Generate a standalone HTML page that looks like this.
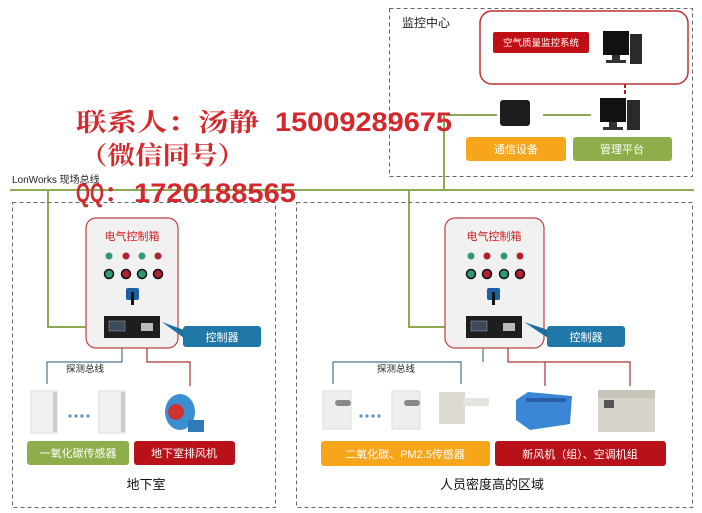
<!DOCTYPE html>
<html><head><meta charset="utf-8"><style>
html,body{margin:0;padding:0;background:#fff}
svg{display:block}
.t{font-family:"Liberation Sans","Noto Sans CJK SC",sans-serif}
.w{font-family:"Liberation Sans Narrow","Liberation Sans","Noto Serif CJK SC",serif;fill:#d3282c;font-weight:bold}
.wc{font-family:"Noto Serif CJK SC",serif;fill:#d3282c;font-weight:bold}
</style></head><body>
<svg width="702" height="513" viewBox="0 0 702 513" xmlns="http://www.w3.org/2000/svg">
<rect x="389.5" y="8.5" width="303" height="168" fill="none" stroke="#666" stroke-dasharray="4,3"/>
<text x="402" y="27" class="t" font-size="12" fill="#222">监控中心</text>
<rect x="480" y="11" width="208" height="73" rx="12" fill="#fff" stroke="#b33" stroke-width="1.5"/>
<rect x="493" y="32" width="96" height="21" rx="2" fill="#c00f14"/>
<text x="541" y="46" class="t" font-size="9.5" fill="#fff" text-anchor="middle">空气质量监控系统</text>
<rect x="603" y="31" width="26" height="24" fill="#111"/><rect x="612" y="55" width="8" height="6" fill="#333"/><rect x="606" y="60" width="20" height="3" fill="#333"/>
<rect x="630" y="34" width="12" height="30" fill="#2a2a2a"/>
<line x1="625" y1="84" x2="625" y2="96" stroke="#a22" stroke-width="2" stroke-dasharray="4,2"/>
<rect x="500" y="100" width="30" height="26" rx="3" fill="#1d1d1d"/>
<rect x="600" y="98" width="26" height="24" fill="#111"/><rect x="609" y="122" width="8" height="5" fill="#333"/><rect x="603" y="127" width="20" height="3" fill="#333"/>
<rect x="627" y="100" width="13" height="30" fill="#2a2a2a"/>
<g stroke="#8daa55" stroke-width="2" fill="none">
<line x1="446" y1="115" x2="497" y2="115"/>
<line x1="543" y1="115" x2="591" y2="115"/>
<line x1="444" y1="114" x2="444" y2="190"/>
<line x1="10" y1="190" x2="694" y2="190"/>
<polyline points="48,190 48,327 104,327"/>
<polyline points="409,190 409,327 466,327"/>
</g>
<rect x="466" y="137" width="100" height="24" rx="3" fill="#f7a51a"/>
<text x="516" y="153" class="t" font-size="11" fill="#fff" text-anchor="middle">通信设备</text>
<rect x="573" y="137" width="99" height="24" rx="3" fill="#8dae4a"/>
<text x="622" y="153" class="t" font-size="11" fill="#fff" text-anchor="middle">管理平台</text>
<text x="12" y="183" class="t" font-size="10" fill="#222">LonWorks 现场总线</text>

<rect x="12.5" y="202.5" width="263" height="305" fill="none" stroke="#666" stroke-dasharray="4,3"/>
<rect x="296.5" y="202.5" width="396" height="305" fill="none" stroke="#666" stroke-dasharray="4,3"/>

<g>
<rect x="86" y="218" width="92" height="130" rx="10" fill="#f1f1f1" stroke="#b44" stroke-width="1.2"/>
<text x="132" y="240" class="t" font-size="11" fill="#c22" text-anchor="middle">电气控制箱</text>
<circle cx="109" cy="256" r="3.5" fill="#2e9b6e"/><circle cx="126" cy="256" r="3.5" fill="#b02030"/><circle cx="142" cy="256" r="3.5" fill="#2e9b6e"/><circle cx="158" cy="256" r="3.5" fill="#b02030"/>
<circle cx="109" cy="274" r="4.5" fill="#2e9b6e" stroke="#111" stroke-width="1.5"/><circle cx="126" cy="274" r="4.5" fill="#b02030" stroke="#111" stroke-width="1.5"/><circle cx="142" cy="274" r="4.5" fill="#2e9b6e" stroke="#111" stroke-width="1.5"/><circle cx="158" cy="274" r="4.5" fill="#b02030" stroke="#111" stroke-width="1.5"/>
<rect x="126" y="288" width="13" height="12" rx="2" fill="#1d5fa0"/><rect x="131" y="292" width="3" height="13" fill="#111"/>
<rect x="104" y="316" width="56" height="22" fill="#1e1e1e"/><rect x="109" y="321" width="16" height="10" fill="#3a4a5a" stroke="#aaa" stroke-width=".5"/>
<rect x="141" y="323" width="12" height="8" fill="#bbb"/>
<polygon points="162,322 184,330 184,338" fill="#1d6fa0"/>
<rect x="183" y="326" width="78" height="21" rx="3" fill="#1f78a8"/>
<text x="222" y="341" class="t" font-size="11" fill="#fff" text-anchor="middle">控制器</text>
</g>
<g fill="none" stroke-width="1.2">
<polyline points="122,348 122,362 47,362 47,384" stroke="#4a7590"/>
<polyline points="147,348 147,362 190,362 190,386" stroke="#a33"/>
</g>
<text x="85" y="372" class="t" font-size="9.5" fill="#222" text-anchor="middle">探测总线</text>
<rect x="31" y="391" width="26" height="42" fill="#f1f1f1" stroke="#ddd"/><rect x="53" y="392" width="4" height="40" fill="#ccc"/>
<rect x="99" y="391" width="26" height="42" fill="#f1f1f1" stroke="#ddd"/><rect x="121" y="392" width="4" height="40" fill="#ccc"/>
<g fill="#5b8fc0"><circle cx="70" cy="416" r="1.6"/><circle cx="76" cy="416" r="1.6"/><circle cx="82" cy="416" r="1.6"/><circle cx="88" cy="416" r="1.6"/></g>
<ellipse cx="180" cy="412" rx="15" ry="18" fill="#3b8fd0"/><circle cx="176" cy="412" r="8" fill="#c33"/><rect x="188" y="420" width="16" height="12" fill="#2f7ab8"/>
<rect x="27" y="441" width="102" height="24" rx="3" fill="#8dae4a"/>
<text x="78" y="457" class="t" font-size="11" fill="#fff" text-anchor="middle">一氧化碳传感器</text>
<rect x="134" y="441" width="101" height="24" rx="3" fill="#b8111a"/>
<text x="184" y="457" class="t" font-size="11" fill="#fff" text-anchor="middle">地下室排风机</text>
<text x="146" y="489" class="t" font-size="13" fill="#111" text-anchor="middle">地下室</text>

<g>
<rect x="445" y="218" width="99" height="130" rx="10" fill="#f1f1f1" stroke="#b44" stroke-width="1.2"/>
<text x="494" y="240" class="t" font-size="11" fill="#c22" text-anchor="middle">电气控制箱</text>
<circle cx="471" cy="256" r="3.5" fill="#2e9b6e"/><circle cx="487" cy="256" r="3.5" fill="#b02030"/><circle cx="504" cy="256" r="3.5" fill="#2e9b6e"/><circle cx="520" cy="256" r="3.5" fill="#b02030"/>
<circle cx="471" cy="274" r="4.5" fill="#2e9b6e" stroke="#111" stroke-width="1.5"/><circle cx="487" cy="274" r="4.5" fill="#b02030" stroke="#111" stroke-width="1.5"/><circle cx="504" cy="274" r="4.5" fill="#2e9b6e" stroke="#111" stroke-width="1.5"/><circle cx="520" cy="274" r="4.5" fill="#b02030" stroke="#111" stroke-width="1.5"/>
<rect x="487" y="288" width="13" height="12" rx="2" fill="#1d5fa0"/><rect x="492" y="292" width="3" height="13" fill="#111"/>
<rect x="466" y="316" width="56" height="22" fill="#1e1e1e"/><rect x="471" y="321" width="16" height="10" fill="#3a4a5a" stroke="#aaa" stroke-width=".5"/>
<rect x="503" y="323" width="12" height="8" fill="#bbb"/>
<polygon points="524,322 548,330 548,338" fill="#1d6fa0"/>
<rect x="547" y="326" width="78" height="21" rx="3" fill="#1f78a8"/>
<text x="586" y="341" class="t" font-size="11" fill="#fff" text-anchor="middle">控制器</text>
</g>
<g fill="none" stroke-width="1.2">
<polyline points="483,348 483,362" stroke="#4a7590"/>
<polyline points="333,384 333,362 461,362 461,384" stroke="#4a7590"/>
<polyline points="508,348 508,362 630,362 630,386" stroke="#a33"/>
<line x1="545" y1="362" x2="545" y2="386" stroke="#a33"/>
</g>
<text x="396" y="372" class="t" font-size="9.5" fill="#222" text-anchor="middle">探测总线</text>
<rect x="323" y="391" width="28" height="38" fill="#eee" stroke="#ddd"/><rect x="335" y="400" width="16" height="6" rx="3" fill="#888"/>
<rect x="392" y="391" width="28" height="38" fill="#eee" stroke="#ddd"/><rect x="404" y="400" width="16" height="6" rx="3" fill="#888"/>
<g fill="#5b8fc0"><circle cx="361" cy="416" r="1.6"/><circle cx="367" cy="416" r="1.6"/><circle cx="373" cy="416" r="1.6"/><circle cx="379" cy="416" r="1.6"/></g>
<rect x="439" y="392" width="26" height="32" fill="#dcdad2"/><rect x="463" y="398" width="26" height="8" fill="#e6e4de"/>
<polygon points="516,400 528,392 572,396 570,424 530,430 516,420" fill="#3b86d6"/><rect x="526" y="398" width="40" height="4" fill="#2a5fa8"/>
<rect x="598" y="390" width="57" height="42" fill="#d8d4cc"/><rect x="598" y="390" width="57" height="8" fill="#c9c4ba"/><rect x="604" y="400" width="10" height="8" fill="#555"/>
<rect x="321" y="441" width="169" height="25" rx="3" fill="#f7a51a"/>
<text x="405" y="458" class="t" font-size="11" fill="#fff" text-anchor="middle">二氧化碳、PM2.5传感器</text>
<rect x="495" y="441" width="171" height="25" rx="3" fill="#b8111a"/>
<text x="580" y="458" class="t" font-size="11" fill="#fff" text-anchor="middle">新风机（组）、空调机组</text>
<text x="492" y="489" class="t" font-size="13" fill="#111" text-anchor="middle">人员密度高的区域</text>

<text x="76" y="131" class="wc" font-size="25" textLength="183" lengthAdjust="spacingAndGlyphs">联系人：汤静</text>
<text x="275" y="131" class="w" font-size="27" textLength="177" lengthAdjust="spacingAndGlyphs">15009289675</text>
<text x="80" y="164" class="wc" font-size="25" textLength="165" lengthAdjust="spacingAndGlyphs">（微信同号）</text>
<text x="76" y="202" class="w" font-size="27" textLength="28" lengthAdjust="spacingAndGlyphs">QQ</text>
<text x="104" y="202" class="wc" font-size="25">：</text>
<text x="134" y="202" class="w" font-size="27" textLength="162" lengthAdjust="spacingAndGlyphs">1720188565</text>
</svg>
</body></html>
